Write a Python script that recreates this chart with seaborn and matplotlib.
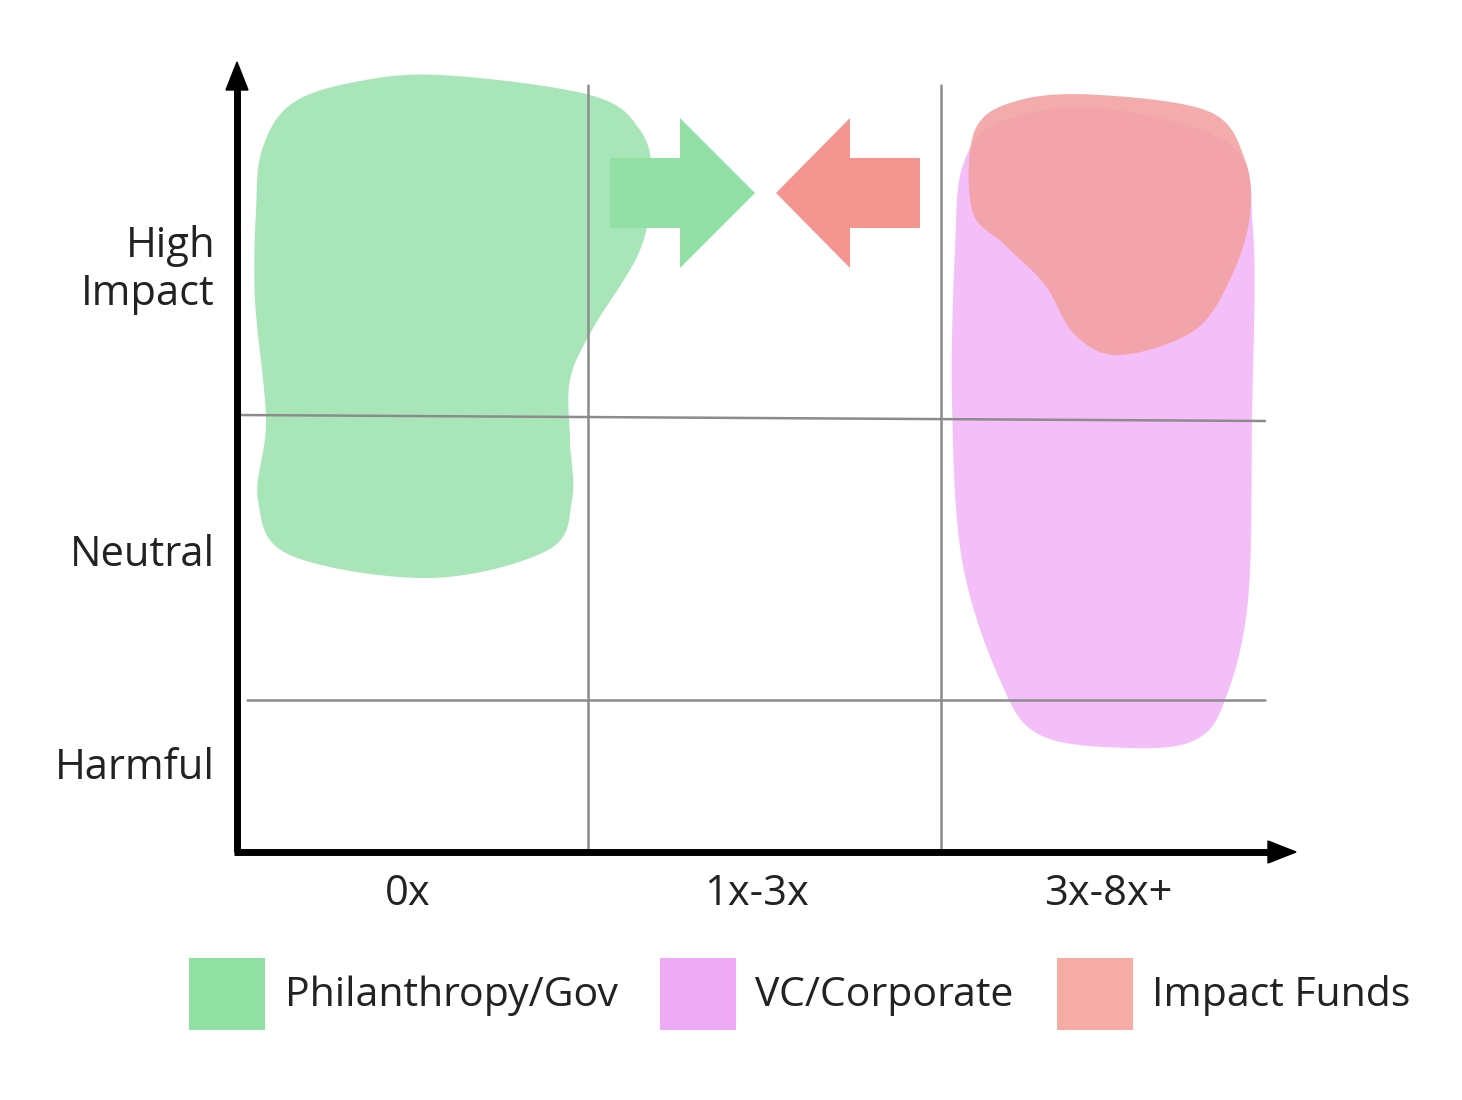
import numpy as np
import matplotlib
matplotlib.use("Agg")
import matplotlib.pyplot as plt
import seaborn as sns
from matplotlib.patches import Polygon

sns.set_theme(style="white", rc={"font.family": "Open Sans"})

# Conceptual diagram data (pixel-space coordinates of the reference)
x_labels = ["0x", "1x-3x", "3x-8x+"]
x_label_pos = [408, 757, 1108]
y_labels = ["High\nImpact", "Neutral", "Harmful"]
y_label_pos = [270, 555, 768]
series = ["Philanthropy/Gov", "VC/Corporate", "Impact Funds"]
legend_colors = ["#90E0A4", "#EEAAF5", "#F5ACA5"]

green_blob = [(262,150),(290,105),(350,83),(440,75),(590,95),(640,130),(652,180),(640,250),(592,330),(570,380),(570,440),(572,500),(548,550),(430,578),(290,555),(258,500),(266,420),(255,300),(256,210)]
pink_blob = [(963,165),(1000,122),(1100,108),(1230,145),(1253,230),(1252,420),(1248,600),(1225,700),(1195,740),(1130,748),(1040,735),(1000,680),(962,560),(952,400),(955,250)]
red_blob = [(975,130),(1020,100),(1100,95),(1210,112),(1245,160),(1250,215),(1232,275),(1195,330),(1120,355),(1075,335),(1045,285),(1005,245),(972,210)]

def smooth(pts, n=30):
    p = np.array(pts, float)
    m = len(p); out = []
    for i in range(m):
        p0, p1, p2, p3 = p[i-1], p[i], p[(i+1) % m], p[(i+2) % m]
        t = np.linspace(0, 1, n, endpoint=False)[:, None]
        out.append(0.5*((2*p1) + (-p0+p2)*t + (2*p0-5*p1+4*p2-p3)*t**2 + (-p0+3*p1-3*p2+p3)*t**3))
    return np.vstack(out)

fig = plt.figure(figsize=(14.62, 11), dpi=100)
ax = fig.add_axes([0, 0, 1, 1])
ax.set_xlim(0, 1462); ax.set_ylim(1100, 0); ax.axis("off")

ax.add_patch(Polygon(smooth(green_blob), closed=True, fc="#A8E6B9", ec="none", zorder=1))
ax.add_patch(Polygon(smooth(pink_blob), closed=True, fc="#F4BEF8", ec="none", zorder=1))
ax.add_patch(Polygon(smooth(red_blob), closed=True, fc="#F2A2A2", ec="none", alpha=0.9, zorder=2))

gc = "#8c8c8c"
ax.plot([588, 588], [85, 852], color=gc, lw=1.8, zorder=3)
ax.plot([941, 941], [85, 852], color=gc, lw=1.8, zorder=3)
ax.plot([237, 1265], [415, 421], color=gc, lw=1.8, zorder=3)
ax.plot([247, 1265], [700, 700], color=gc, lw=1.8, zorder=3)

ax.add_patch(Polygon([(610,158),(680,158),(680,118),(755,193),(680,268),(680,228),(610,228)], fc="#92E0A6", ec="none", zorder=4))
ax.add_patch(Polygon([(920,158),(850,158),(850,118),(776,193),(850,268),(850,228),(920,228)], fc="#F4968F", ec="none", zorder=4))

ax.plot([237, 237], [852, 80], color="black", lw=5, solid_capstyle="butt", zorder=5)
ax.plot([234, 1280], [852, 852], color="black", lw=5, solid_capstyle="butt", zorder=5)
ax.add_patch(Polygon([(226,90),(237,62),(248,90)], fc="black", ec="black", zorder=5))
ax.add_patch(Polygon([(1268,841),(1296,852),(1268,863)], fc="black", ec="black", zorder=5))

tc = "#222222"
for lab, y in zip(y_labels, y_label_pos):
    ax.text(215, y, lab, ha="right", va="center", fontsize=30, color=tc, linespacing=1.2)
for lab, x in zip(x_labels, x_label_pos):
    ax.text(x, 894, lab, ha="center", va="center", fontsize=30, color=tc)

for name, col, x0, tx in zip(series, legend_colors, [189, 660, 1057], [285, 755, 1152]):
    ax.add_patch(Polygon([(x0,958),(x0+76,958),(x0+76,1030),(x0,1030)], fc=col, ec="none"))
    ax.text(tx, 996, name, ha="left", va="center", fontsize=29.5, color=tc)

fig.savefig("out.png", dpi=100)
